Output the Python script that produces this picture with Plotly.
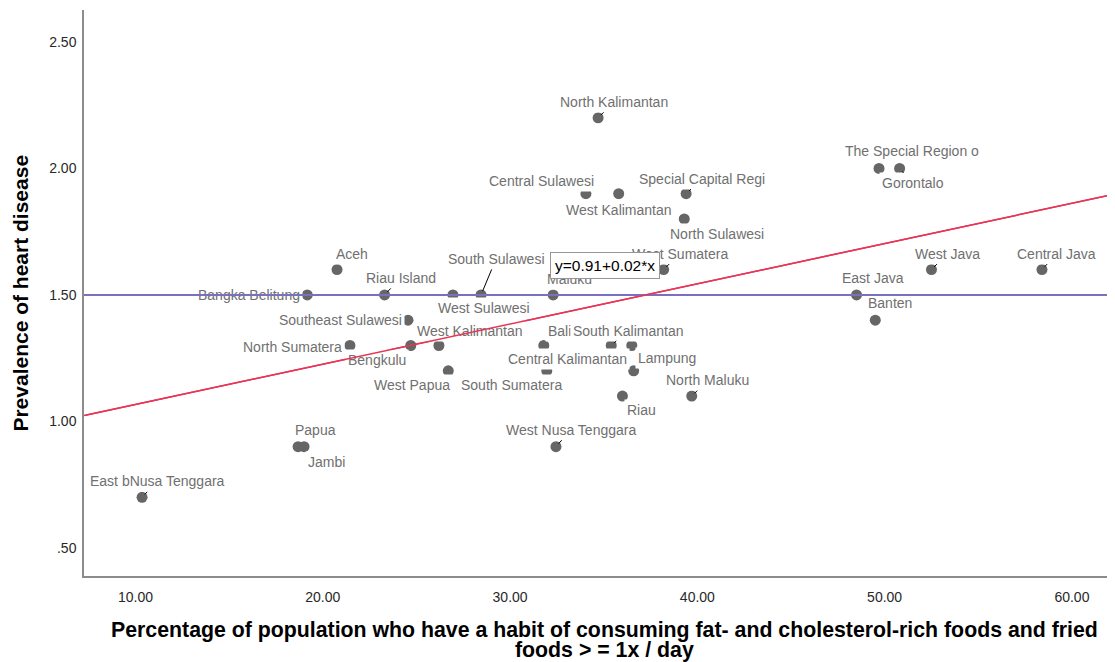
import numpy as np
import plotly.graph_objects as go

# ---- data ----
provinces = [
    "North Kalimantan", "Central Sulawesi", "West Kalimantan", "Special Capital Regi",
    "North Sulawesi", "The Special Region o", "Gorontalo", "Aceh", "West Sumatera",
    "West Java", "Central Java", "Bangka Belitung", "Riau Island", "West Sulawesi",
    "South Sulawesi", "Maluku", "East Java", "Southeast Sulawesi", "Banten",
    "North Sumatera", "Bengkulu", "West Kalimantan", "Bali", "South Kalimantan",
    "South Sumatera", "West Papua", "Central Kalimantan", "Lampung", "Riau",
    "North Maluku", "Papua", "Jambi", "West Nusa Tenggara", "East bNusa Tenggara",
]
fat_food_pct = [
    34.7, 34.05, 35.8, 39.4,
    39.3, 49.7, 50.8, 20.76, 38.2,
    52.5, 58.4, 19.17, 23.3, 26.95,
    28.45, 32.3, 48.5, 24.55, 49.5,
    21.45, 24.7, 26.2, 31.8, 35.4,
    36.5, 26.7, 31.96, 36.6, 36.0,
    39.7, 18.68, 19.0, 32.45, 10.35,
]
heart_prev = [
    2.2, 1.9, 1.9, 1.9,
    1.8, 2.0, 2.0, 1.6, 1.6,
    1.6, 1.6, 1.5, 1.5, 1.5,
    1.5, 1.5, 1.5, 1.4, 1.4,
    1.3, 1.3, 1.3, 1.3, 1.3,
    1.3, 1.2, 1.2, 1.2, 1.1,
    1.1, 0.9, 0.9, 0.9, 0.7,
]
x_ticks = [10, 20, 30, 40, 50, 60]
x_tick_text = ["10.00", "20.00", "30.00", "40.00", "50.00", "60.00"]
y_ticks = [0.5, 1.0, 1.5, 2.0, 2.5]
y_tick_text = [".50", "1.00", "1.50", "2.00", "2.50"]
reference_y = 1.5
x_title_lines = [
    "Percentage of population who have a habit of consuming fat- and cholesterol-rich foods and fried",
    "foods > = 1x / day",
]
y_title = "Prevalence of heart disease"

# ---- label placement (pixel offsets from marker), styling only ----
label_offsets = [
    (16, -16), (-44, -13), (0, 16), (16, -15),
    (33, 15), (33, -17), (13, 15), (15, -16), (16, -16),
    (16, -16), (15, -16), (-58, 0), (16, -17), (31, 13),
    (15, -36), (16, -16), (16, -17), (-68, 0), (15, -17),
    (-57, 1), (-34, 14), (31, -15), (16, -15), (17, -15),
    (-120, 39), (-36, 14), (21, -12), (33, -13), (19, 14),
    (16, -16), (17, -17), (22, 15), (15, -17), (15, -16),
]
leader = {"North Kalimantan", "Special Capital Regi", "Riau Island", "West Sumatera",
          "West Java", "Central Java", "Gorontalo", "South Sulawesi", "North Maluku",
          "West Nusa Tenggara", "East bNusa Tenggara", "South Kalimantan"}

x_range = [7.25, 62.3]
y_range = [0.389, 2.626]

slope, intercept = np.polyfit(fat_food_pct, heart_prev, 1)
fit_x = np.array(x_range)
fit_y = intercept + slope * fit_x

FONT = "Liberation Sans, Arial, sans-serif"
BLUE = "rgb(122,112,192)"
RED = "rgb(232,52,86)"

fig = go.Figure()
fig.add_trace(go.Scatter(
    x=x_range, y=[reference_y, reference_y], mode="lines",
    line=dict(color=BLUE, width=2), hoverinfo="skip", showlegend=False))
fig.add_trace(go.Scatter(
    x=fit_x, y=fit_y, mode="lines",
    line=dict(color=RED, width=1.5), hoverinfo="skip", showlegend=False))
fig.add_trace(go.Scatter(
    x=fat_food_pct, y=heart_prev, mode="markers",
    marker=dict(color="rgb(102,102,102)", size=11), text=provinces, showlegend=False))

# point labels: opaque white boxes (as in the original, they hide parts of nearby markers)
label_font = dict(family=FONT, size=14, color="rgb(112,112,112)")
annotations = []
for name, xv, yv, (dx, dy) in zip(provinces, fat_food_pct, heart_prev, label_offsets):
    if name in leader:
        annotations.append(dict(
            x=xv, y=yv, xref="x", yref="y", text=name, showarrow=True,
            ax=dx, ay=dy, arrowhead=0, arrowwidth=1, arrowcolor="black",
            standoff=4, font=label_font, borderpad=2, bgcolor="white"))
    else:
        annotations.append(dict(
            x=xv, y=yv, xref="x", yref="y", text=name, showarrow=False,
            xshift=dx, yshift=-dy, font=label_font, borderpad=2, bgcolor="white"))

# reference line and fit line redrawn above the label boxes
annotations.append(dict(
    x=x_range[1], y=reference_y, ax=x_range[0], ay=reference_y,
    xref="x", yref="y", axref="x", ayref="y", text="", showarrow=True,
    arrowhead=0, arrowwidth=2, arrowcolor=BLUE, standoff=0, startstandoff=0))
annotations.append(dict(
    x=float(fit_x[1]), y=float(fit_y[1]), ax=float(fit_x[0]), ay=float(fit_y[0]),
    xref="x", yref="y", axref="x", ayref="y", text="", showarrow=True,
    arrowhead=0, arrowwidth=1.5, arrowcolor=RED, standoff=0, startstandoff=0))

# equation box
annotations.append(dict(
    x=0.5053, y=0.5486, xref="paper", yref="paper", showarrow=False,
    xanchor="center", yanchor="middle",
    text=f"y={intercept:.2f}+{slope:.2f}*x",
    font=dict(family=FONT, size=15.5, color="black"),
    bgcolor="white", bordercolor="rgb(150,150,150)", borderwidth=1, borderpad=4))

# axis titles
annotations.append(dict(
    x=-0.0625, y=0.5, xref="paper", yref="paper", showarrow=False, textangle=-90,
    xanchor="center", yanchor="middle",
    text=f"<b>{y_title}</b>", font=dict(family=FONT, size=21, color="black")))
for line, ypos in zip(x_title_lines, [-0.0954, -0.1307]):
    annotations.append(dict(
        x=0.5053, y=ypos, xref="paper", yref="paper", showarrow=False,
        xanchor="center", yanchor="middle",
        text=f"<b>{line}</b>", font=dict(family=FONT, size=21.3, color="black")))

# page body has an 8px margin: shrink the figure so the plot area lands where the reference has it
fig.update_layout(
    width=1107, height=654,
    margin=dict(l=76, r=0, t=2, b=86),
    paper_bgcolor="white", plot_bgcolor="white",
    annotations=annotations,
    xaxis=dict(range=x_range, tickvals=x_ticks, ticktext=x_tick_text, showgrid=False,
               zeroline=False, showline=True, linecolor="rgb(140,140,140)", linewidth=1.5,
               ticks="", ticklabelstandoff=7,
               tickfont=dict(family=FONT, size=14, color="rgb(40,40,40)")),
    yaxis=dict(range=y_range, tickvals=y_ticks, ticktext=y_tick_text, showgrid=False,
               zeroline=False, showline=True, linecolor="rgb(140,140,140)", linewidth=1.5,
               ticks="", ticklabelstandoff=3,
               tickfont=dict(family=FONT, size=14, color="rgb(40,40,40)")),
)

fig.write_html("out.html")
